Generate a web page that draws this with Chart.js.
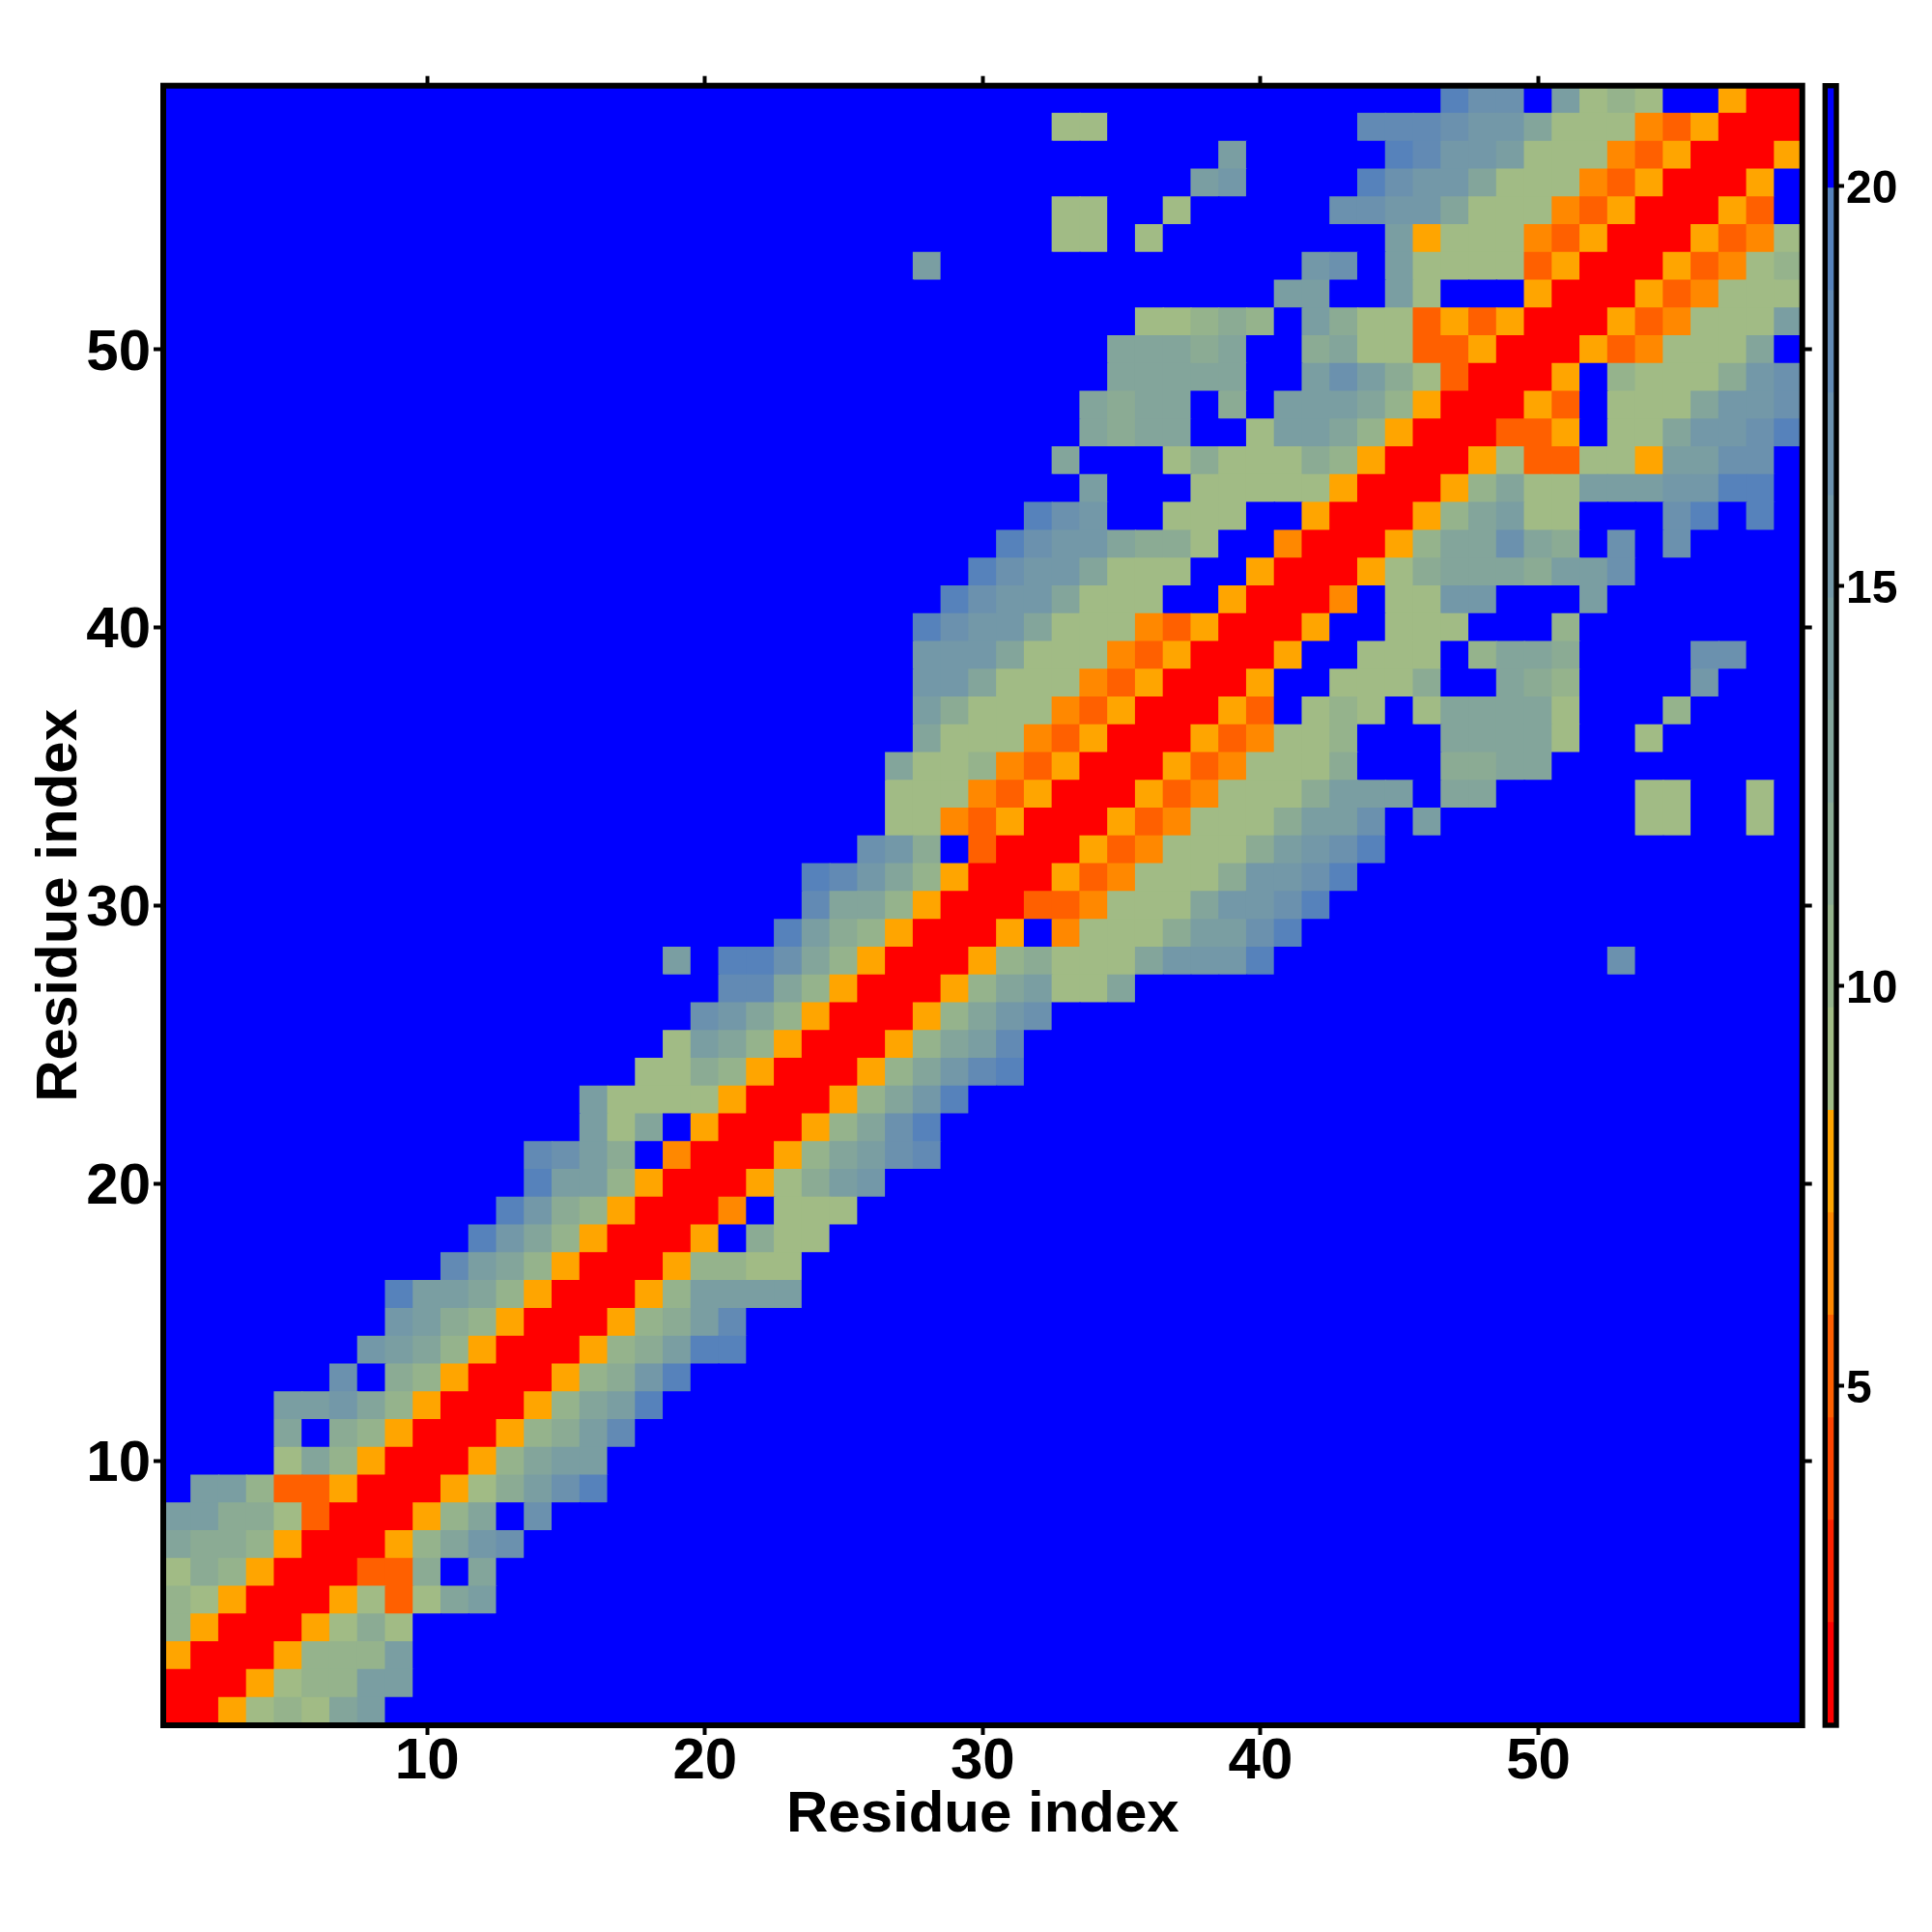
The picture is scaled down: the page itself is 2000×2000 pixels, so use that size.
<!DOCTYPE html>
<html>
<head>
<meta charset="utf-8">
<title>Residue distance map</title>
<script src="https://cdn.jsdelivr.net/npm/chart.js@4/dist/chart.umd.min.js"></script>
<style>
    html, body { margin: 0; padding: 0; background: #fff; }
    #mapChart { position: absolute; left: 0; top: 0; }
    #barChart { position: absolute; left: 1870px; top: 0; }
</style>
</head>
<body>
<canvas id="mapChart" width="2000" height="2000"></canvas>
<canvas id="barChart" width="130" height="2000"></canvas>
<script>
const residues = [];
for (let i = 1; i <= 59; i++) residues.push(i);

const axisTicks = [10, 20, 30, 40, 50];
const barTicks = [5, 10, 15, 20];
const axisTitle = 'Residue index';

// colour bar bands from 0.75 to 21.25, lowest first
const barMin = 0.75;
const barStep = 1.28125;
const bandColors = [
    '#ff0000', '#ff2200', '#ff4400', '#ff6000', '#ff8800', '#ffa500',
    '#a1bb85', '#95b38c', '#8bab94', '#83a59b', '#7a9ea2', '#7398a8',
    '#6b91ae', '#628ab4', '#5682bb', '#0000ff'
];

// one string per residue row, bottom row first, one hex band per column
// missing columns at the end of a row are in the top (blue) band
const bandRows = [
    "0056769aff",
    "0005677aaf",
    "50005777af",
    "750005686f",
    "7650005636 9a",
    "6875000338 f9",
    "9887500057 9bc",
    "aa88630005 79fc",
    "faa7335000 568ace",
    "ffff697500 0579aa",
    "ffff9f8750 00578ad",
    "ffffaab975 000579ae",
    "ffffffcf87 5000578be",
    "fffffffba9 75000578ae e",
    "ffffffffba 875000578a d",
    "ffffffffea a97500057a aaa",
    "ffffffffff da97500057 766",
    "ffffffffff feb9750005 f866",
    "ffffffffff ffeb875000 4f666",
    "ffffffffff fffeaa7500 0568ab",
    "ffffffffff fffdca8f40 00579acd",
    "ffffffffff fffffa69f5 000579ce",
    "ffffffffff fffffa6666 5000579be",
    "ffffffffff fffffff668 75000579bd e",
    "ffffffffff ffffffff6a 975000579a d",
    "ffffffffff fffffffffc b975000579 bc",
    "ffffffffff ffffffffff dd97500057 9a669",
    "ffffffffff ffffffffaf eec9750005 786669bbbe ffffffffff ffc",
    "ffffffffff ffffffffff ffea875000 5f46668aac e",
    "ffffffffff ffffffffff fffd997500 03346669bb ce",
    "ffffffffff ffffffffff fffedb9750 005346668b bce",
    "ffffffffff ffffffffff fffffcb8f3 0005346668 abce",
    "ffffffffff ffffffffff ffffff6643 5000534666 8aacfaffff fff66ff6",
    "ffffffffff ffffffffff ffffff6664 3500053466 68aaaf99ff fff66ff6",
    "ffffffffff ffffffffff ffffff9667 4350005346 668fff8899",
    "ffffffffff ffffffffff fffffff966 6435000534 667fff9999 6ff6",
    "ffffffffff ffffffffff fffffffa86 6643500053 f676f69999 6fff7",
    "ffffffffff ffffffffff fffffffbb9 6664350005 ff6668ff98 7ffffb",
    "ffffffffff ffffffffff fffffffbbb 9666435000 5ff666f799 8ffffcc",
    "ffffffffff ffffffffff fffffffecb b966643500 05ff666fff 7",
    "ffffffffff ffffffffff ffffffffec bb9666ff50 004f66bbff fa",
    "ffffffffff ffffffffff fffffffffe cbb9666ff5 0005689998 aac",
    "ffffffffff ffffffffff ffffffffff ecbb9886ff 40005799c9 8fcfc",
    "ffffffffff ffffffffff ffffffffff fecbff666f f5000579a6 6fffcefe",
    "ffffffffff ffffffffff ffffffffff fffafff666 6650005796 6aaabbeef",
    "ffffffffff ffffffffff ffffffffff ff9fff6866 6875000563 3665aacc",
    "ffffffffff ffffffffff ffffffffff fff9899ff6 aa97500033 5f669bbce",
    "ffffffffff ffffffffff ffffffffff fff9899f8f aaa9750005 3f6669bbc",
    "ffffffffff ffffffffff ffffffffff ffff99999f faca863000 5f76668bc",
    "ffffffffff ffffffffff ffffffffff ffff99989f f896633500 05346669f",
    "ffffffffff ffffffffff ffffffffff fffff66787 fa86635350 00534666a",
    "ffffffffff ffffffffff ffffffffff ffffffffff aaffa6fff5 000534666",
    "ffffffffff ffffffffff fffffffaff ffffffffff fbcfa66663 500053467",
    "ffffffffff ffffffffff ffffffffff ff66f6ffff ffffa56664 350005346",
    "ffffffffff ffffffffff ffffffffff ff66ff6fff ffccbb9666 43500053f",
    "ffffffffff ffffffffff ffffffffff fffffffabf fffecbb966 64350005f",
    "ffffffffff ffffffffff ffffffffff ffffffffaf ffffedbba6 664350005",
    "ffffffffff ffffffffff ffffffffff ff66ffffff fffdddcbb9 666435000",
    "ffffffffff ffffffffff ffffffffff ffffffffff ffffffeccf a676ff500"
];

const fontFamily = '"Liberation Sans", Arial, sans-serif';

function rowBands(row) {
    return row.replace(/ /g, '').padEnd(residues.length, 'f').split('').map(c => parseInt(c, 16));
}

// keep only the labelled residues on a category axis
function keepCategoryTicks(axis) {
    axis.ticks = axis.ticks.filter(t => axisTicks.includes(residues[t.value]));
}

function setLinearTicks(axis, list) {
    axis.ticks = list.map(v => ({ value: v }));
}

const tickGrid = {
    drawOnChartArea: false,
    drawTicks: true,
    tickLength: 10,
    tickWidth: 4,
    tickColor: '#000',
    offset: false
};

const framePlugin = {
    id: 'frame',
    // chart.js centres labels on the em box, these digits sit a bit off it
    beforeDraw(chart, args, opts) {
        Object.keys(opts.nudge).forEach(id => {
            chart.scales[id].getLabelItems().forEach(item => {
                item.options.translation[1] += opts.nudge[id];
            });
        });
    },
    afterDraw(chart, args, opts) {
        const a = chart.chartArea;
        const ctx = chart.ctx;
        ctx.save();
        ctx.strokeStyle = '#000';
        ctx.lineWidth = opts.width;
        ctx.strokeRect(a.left, a.top, a.right - a.left, a.bottom - a.top);
        ctx.restore();
    }
};

const mapDatasets = bandRows.map((row, i) => ({
    data: residues.map(() => [residues[i] - 0.5, residues[i] + 0.5]),
    backgroundColor: rowBands(row).map(b => bandColors[b]),
    borderWidth: 0,
    inflateAmount: 0.6,
    barPercentage: 1,
    categoryPercentage: 1,
    grouped: false
}));

const mapChart = new Chart(document.getElementById('mapChart'), {
    type: 'bar',
    data: { labels: residues, datasets: mapDatasets },
    options: {
        responsive: false,
        animation: false,
        events: [],
        layout: { padding: 0 },
        plugins: {
            legend: { display: false },
            tooltip: { enabled: false },
            frame: { width: 6, nudge: { x: -10, y: 4 } }
        },
        scales: {
            x: {
                position: 'bottom',
                offset: true,
                grid: tickGrid,
                border: { display: false },
                afterBuildTicks: keepCategoryTicks,
                afterFit: s => { s.height = 214; },
                ticks: {
                    autoSkip: false,
                    maxRotation: 0,
                    padding: 2,
                    color: '#000',
                    font: { family: fontFamily, size: 60, weight: 'bold' }
                },
                title: {
                    display: true,
                    text: axisTitle,
                    color: '#000',
                    padding: 84.5,
                    font: { family: fontFamily, size: 60, weight: 'bold' }
                }
            },
            x2: {
                type: 'category',
                labels: residues,
                position: 'top',
                offset: true,
                grid: tickGrid,
                border: { display: false },
                afterBuildTicks: keepCategoryTicks,
                afterFit: s => { s.height = 88.7; },
                ticks: { autoSkip: false, display: false }
            },
            y: {
                position: 'left',
                min: 0.5,
                max: 59.5,
                grid: tickGrid,
                border: { display: false },
                afterBuildTicks: s => setLinearTicks(s, axisTicks),
                afterFit: s => { s.width = 169; },
                ticks: {
                    padding: 3,
                    color: '#000',
                    font: { family: fontFamily, size: 60, weight: 'bold' }
                },
                title: {
                    display: true,
                    text: axisTitle,
                    color: '#000',
                    padding: 26,
                    font: { family: fontFamily, size: 60, weight: 'bold' }
                }
            },
            y2: {
                type: 'linear',
                position: 'right',
                min: 0.5,
                max: 59.5,
                grid: tickGrid,
                border: { display: false },
                afterBuildTicks: s => setLinearTicks(s, axisTicks),
                afterFit: s => { s.width = 134.3; },
                ticks: { display: false }
            }
        }
    },
    plugins: [framePlugin]
});

const barDatasets = bandColors.map((color, i) => ({
    data: [[barMin + i * barStep, barMin + (i + 1) * barStep]],
    backgroundColor: color,
    borderWidth: 0,
    inflateAmount: 0.6,
    barPercentage: 1,
    categoryPercentage: 1,
    grouped: false
}));

const barChart = new Chart(document.getElementById('barChart'), {
    type: 'bar',
    data: { labels: ['Distance'], datasets: barDatasets },
    options: {
        responsive: false,
        animation: false,
        events: [],
        layout: { padding: { left: 19.3, top: 88.7, bottom: 214 } },
        plugins: {
            legend: { display: false },
            tooltip: { enabled: false },
            frame: { width: 5.4, nudge: { y: 5 } }
        },
        scales: {
            x: { display: false },
            y: {
                position: 'right',
                min: barMin,
                max: barMin + bandColors.length * barStep,
                grid: {
                    drawOnChartArea: false,
                    drawTicks: true,
                    tickLength: 8,
                    tickWidth: 4,
                    tickColor: '#000'
                },
                border: { display: false },
                afterBuildTicks: s => setLinearTicks(s, barTicks),
                afterFit: s => { s.width = 99; },
                ticks: {
                    padding: 2,
                    color: '#000',
                    font: { family: fontFamily, size: 48, weight: 'bold' }
                }
            }
        }
    },
    plugins: [framePlugin]
});
</script>
</body>
</html>
